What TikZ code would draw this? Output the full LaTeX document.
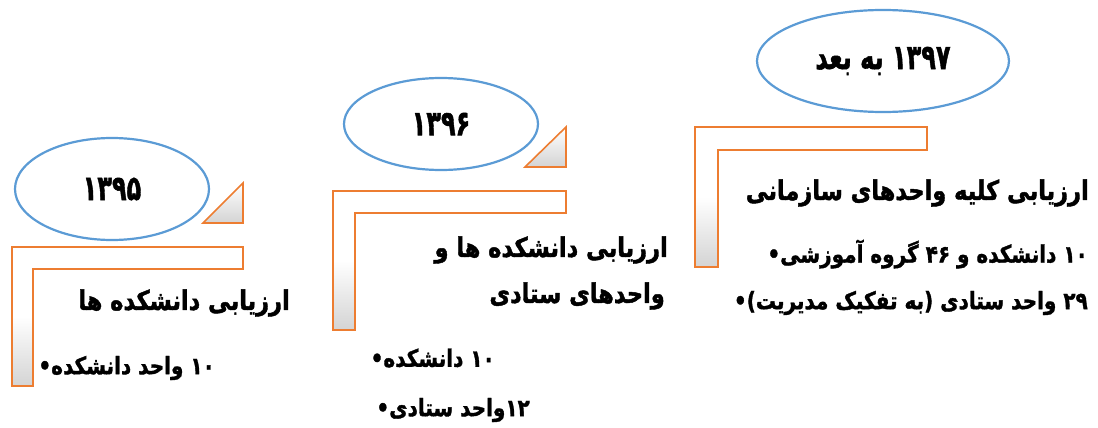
\documentclass[tikz,border=0pt]{standalone}
\usepackage{fontspec}
\usepackage{graphicx}
\TeXXeTstate=1
\newfontfamily\arabicfont[Script=Arabic, BoldFeatures={FakeBold=1.6}]{DejaVu Sans}
\usetikzlibrary{shapes.geometric}
\definecolor{ellblue}{RGB}{91,155,213}
\definecolor{lorange}{RGB}{237,125,49}
\newcommand{\vstretch}[2]{\scalebox{1}[#1]{#2}}
\tikzset{
  yearell/.style={ellipse, draw=ellblue, line width=2.2pt, fill=white, inner sep=0pt,
    font=\arabicfont\bfseries\fontsize{24}{28}\selectfont},
  lshape/.style={draw=lorange, line width=1.6pt, top color=white, bottom color=black!17, middle color=white},
  tri/.style={draw=lorange, line width=1.6pt, top color=white, bottom color=black!17},
  titletext/.style={anchor=east, inner sep=0pt, font=\arabicfont\bfseries\fontsize{22.5}{26}\selectfont},
  itemtext/.style={anchor=east, inner sep=0pt, font=\arabicfont\bfseries\fontsize{20}{24}\selectfont}
}
\begin{document}
\begin{tikzpicture}[x=1pt,y=-1pt]
\useasboundingbox (0,0) rectangle (1098,428);
% group 1
\node[yearell, minimum width=194pt, minimum height=102pt] (e1) at (112,189) {\vstretch{1.45}{\beginR ۱۳۹۵\endR}};
\path[tri] (203,223) -- (243,183) -- (243,223) -- cycle;
\path[lshape] (12,247) -- (243,247) -- (243,269) -- (33,269) -- (33,386) -- (12,386) -- cycle;
\node[titletext] (t1a) at (290,303) {\vstretch{1.2}{\beginR ارزیابی دانشکده ها\endR}};
\node[itemtext] (t1b) at (215,368) {\vstretch{1.2}{•\beginR ۱۰ واحد دانشکده\endR}};
% group 2
\node[yearell, minimum width=194pt, minimum height=92pt] (e2) at (441,124) {\vstretch{1.45}{\beginR ۱۳۹۶\endR}};
\path[tri] (525,167) -- (566,127) -- (566,167) -- cycle;
\path[lshape] (333,191) -- (566,191) -- (566,213) -- (355,213) -- (355,330) -- (333,330) -- cycle;
\node[titletext] (t2a) at (668,250) {\vstretch{1.2}{\beginR ارزیابی دانشکده ها و\endR}};
\node[titletext] (t2b) at (665,296) {\vstretch{1.2}{\beginR واحدهای ستادی\endR}};
\node[itemtext] (t2c) at (495,358) {\vstretch{1.2}{•\beginR ۱۰ دانشکده\endR}};
\node[itemtext] (t2d) at (530,410) {\vstretch{1.2}{•\beginR ۱۲واحد ستادی\endR}};
% group 3
\node[yearell, minimum width=252pt, minimum height=102pt] (e3) at (883,61) {\vstretch{1.45}{\beginR ۱۳۹۷ به بعد\endR}};
\path[lshape] (695,127) -- (927,127) -- (927,150) -- (718,150) -- (718,267) -- (695,267) -- cycle;
\node[titletext] (t3a) at (1089,193) {\vstretch{1.2}{\beginR ارزیابی کلیه واحدهای سازمانی\endR}};
\node[itemtext] (t3b) at (1088,254) {\vstretch{1.2}{•\beginR ۱۰ دانشکده و ۴۶ گروه آموزشی\endR}};
\node[itemtext] (t3c) at (1088,303) {\vstretch{1.2}{•\beginR ۲۹ واحد ستادی (به تفکیک مدیریت)\endR}};
\end{tikzpicture}
\end{document}
